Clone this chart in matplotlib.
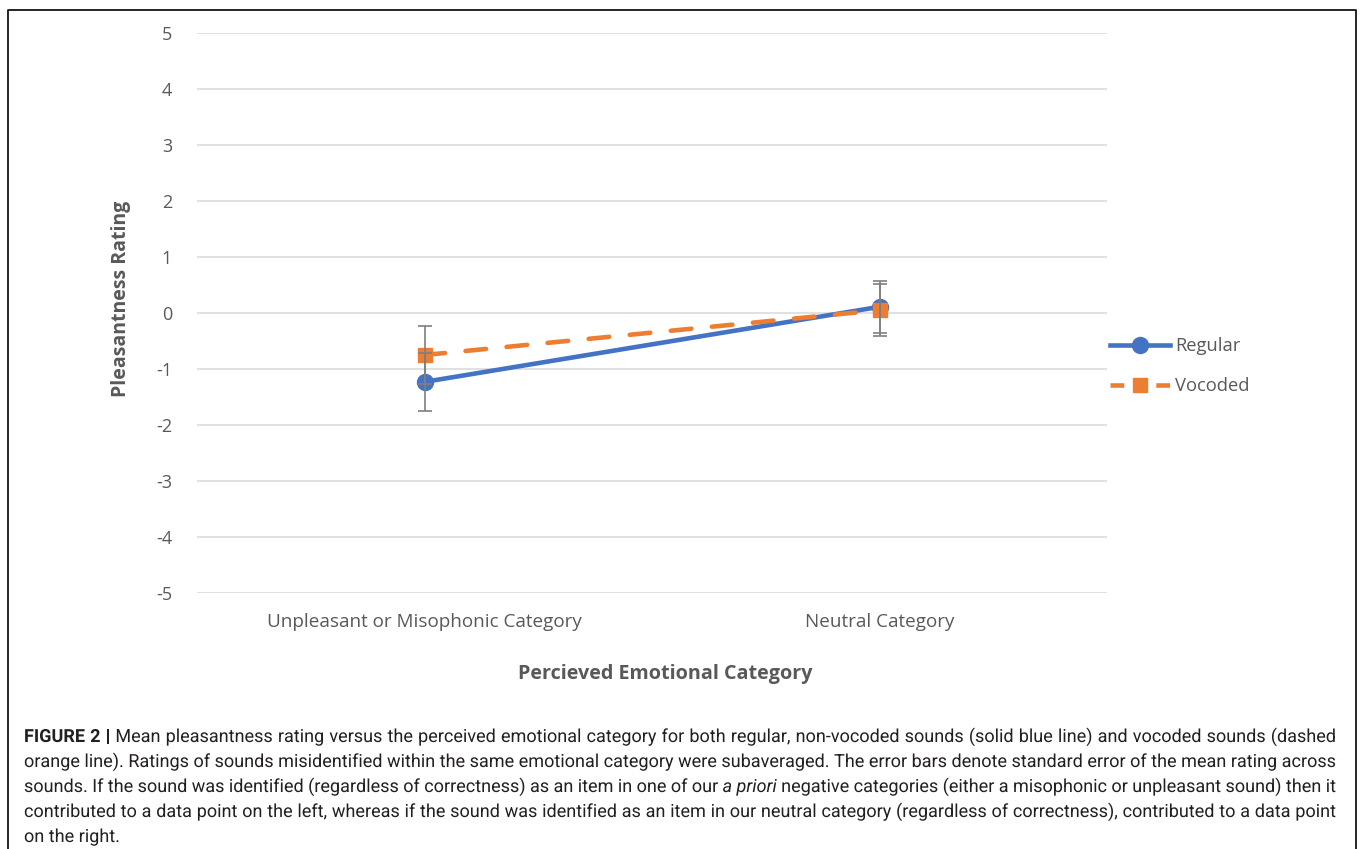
import matplotlib
matplotlib.use('Agg')
import matplotlib.pyplot as plt
from matplotlib.lines import Line2D
from matplotlib.patches import PathPatch
from matplotlib.textpath import TextPath, text_to_path
from matplotlib.font_manager import FontProperties
from matplotlib.transforms import Affine2D

matplotlib.rcParams['axes.unicode_minus'] = False

categories = ['Unpleasant or Misophonic Category', 'Neutral Category']
regular = [-1.23, 0.11]
regular_se = [0.52, 0.46]
vocoded = [-0.75, 0.05]
vocoded_se = [0.52, 0.46]
y_ticks = [-5, -4, -3, -2, -1, 0, 1, 2, 3, 4, 5]

caption_lines = [
    "**FIGURE 2 |** Mean pleasantness rating versus the perceived emotional category for both regular, non-vocoded sounds (solid blue line) and vocoded sounds (dashed",
    "orange line). Ratings of sounds misidentified within the same emotional category were subaveraged. The error bars denote standard error of the mean rating across",
    "sounds. If the sound was identified (regardless of correctness) as an item in one of our _a priori_ negative categories (either a misophonic or unpleasant sound) then it",
    "contributed to a data point on the left, whereas if the sound was identified as an item in our neutral category (regardless of correctness), contributed to a data point",
    "on the right.",
]

BLUE = '#4472C4'
ORANGE = '#ED7D31'
GREY = '#595959'
W, H = 1360, 849
DPI = 100
chart_font = 'Open Sans'
caption_font = 'Roboto'
LW = 3.3

fig = plt.figure(figsize=(W / DPI, H / DPI), dpi=DPI)
fig.patch.set_facecolor('white')

# outer frame (runs off the bottom edge)
fig.add_artist(Line2D([8 / W, 8 / W, 1356 / W, 1356 / W], [-0.1, 1 - 10 / H, 1 - 10 / H, -0.1],
                      transform=fig.transFigure, color='black', lw=1.2))

ax = fig.add_axes([197 / W, (H - 593) / H, 910 / W, 560 / H])
x = list(range(len(categories)))

ax.plot(x, regular, color=BLUE, lw=LW, marker='o', markersize=11.5, solid_capstyle='round', zorder=3)
ax.plot(x, vocoded, color=ORANGE, lw=LW, marker='s', markersize=10, dashes=(4.5, 4.5),
        dash_capstyle='round', zorder=4)
ax.errorbar(x, regular, yerr=regular_se, fmt='none', ecolor='#7F7F7F', elinewidth=1.2,
            capsize=5, capthick=1.2, zorder=5)
ax.errorbar(x, vocoded, yerr=vocoded_se, fmt='none', ecolor='#7F7F7F', elinewidth=1.2,
            capsize=5, capthick=1.2, zorder=5)

ax.set_xlim(-0.5, 1.5)
ax.set_ylim(-5, 5)
ax.set_yticks(y_ticks)
ax.set_yticklabels([str(t) for t in y_ticks], fontfamily=chart_font, fontsize=13, color=GREY)
ax.set_xticks(x)
ax.set_xticklabels(categories, fontfamily=chart_font, fontsize=13.6, color=GREY)
ax.tick_params(axis='y', length=0, pad=18)
ax.tick_params(axis='x', length=0, pad=14.5)
ax.grid(axis='y', color='#D9D9D9', lw=1.1)
ax.set_axisbelow(True)
for s in ax.spines.values():
    s.set_visible(False)

fig.text(665 / W, 1 - 674 / H, 'Percieved Emotional Category', ha='center', va='center',
         fontfamily=chart_font, fontsize=14.2, fontweight='bold', color=GREY)
fig.text(121 / W, 1 - 299 / H, 'Pleasantness Rating', ha='center', va='center', rotation=90,
         fontfamily=chart_font, fontsize=14, fontweight='bold', color=GREY)

handles = [
    Line2D([], [], color=BLUE, lw=LW, marker='o', markersize=11.5),
    Line2D([], [], color=ORANGE, lw=LW, marker='s', markersize=10, dashes=(3, 2)),
]
leg = fig.legend(handles, ['Regular', 'Vocoded'], loc='center left',
                 bbox_to_anchor=(1101 / W, 1 - 366 / H), frameon=False,
                 handlelength=3.25, handletextpad=0.3, labelspacing=1.2, borderpad=0,
                 prop={'family': chart_font, 'size': 13.2})
for t in leg.get_texts():
    t.set_color(GREY)

# justified caption, drawn word by word as paths so all words share one baseline
cap_size = 13
left_px, right_px = 24, 1336
for i, line in enumerate(caption_lines):
    words = []
    bold = italic = False
    for w in line.split(' '):
        if w.startswith('**'):
            bold = True
            w = w[2:]
        if w.startswith('_'):
            italic = True
            w = w[1:]
        end_bold = w.endswith('**')
        end_italic = w.endswith('_')
        w = w.rstrip('*_')
        fp = FontProperties(family=caption_font, size=cap_size,
                            weight='bold' if bold else 'normal',
                            style='italic' if italic else 'normal')
        words.append((w, fp))
        if end_bold:
            bold = False
        if end_italic:
            italic = False

    # advance widths in pixels
    widths = [text_to_path.get_text_width_height_descent(w, fp, ismath=False)[0] * DPI / 72
              for w, fp in words]
    if i < len(caption_lines) - 1:
        gap = (right_px - left_px - sum(widths)) / (len(words) - 1)
    else:
        gap = 4.5
    base_px = H - (742 + 25 * i)
    xp = left_px
    for (w, fp), wd in zip(words, widths):
        path = TextPath((0, 0), w, prop=fp)
        tr = Affine2D().scale(DPI / 72).translate(xp, base_px) + Affine2D().scale(1 / DPI) + fig.dpi_scale_trans
        fig.add_artist(PathPatch(path, transform=tr, facecolor='#231F20', edgecolor='none', lw=0))
        xp += wd + gap

fig.savefig('out.png', dpi=DPI, facecolor='white')
